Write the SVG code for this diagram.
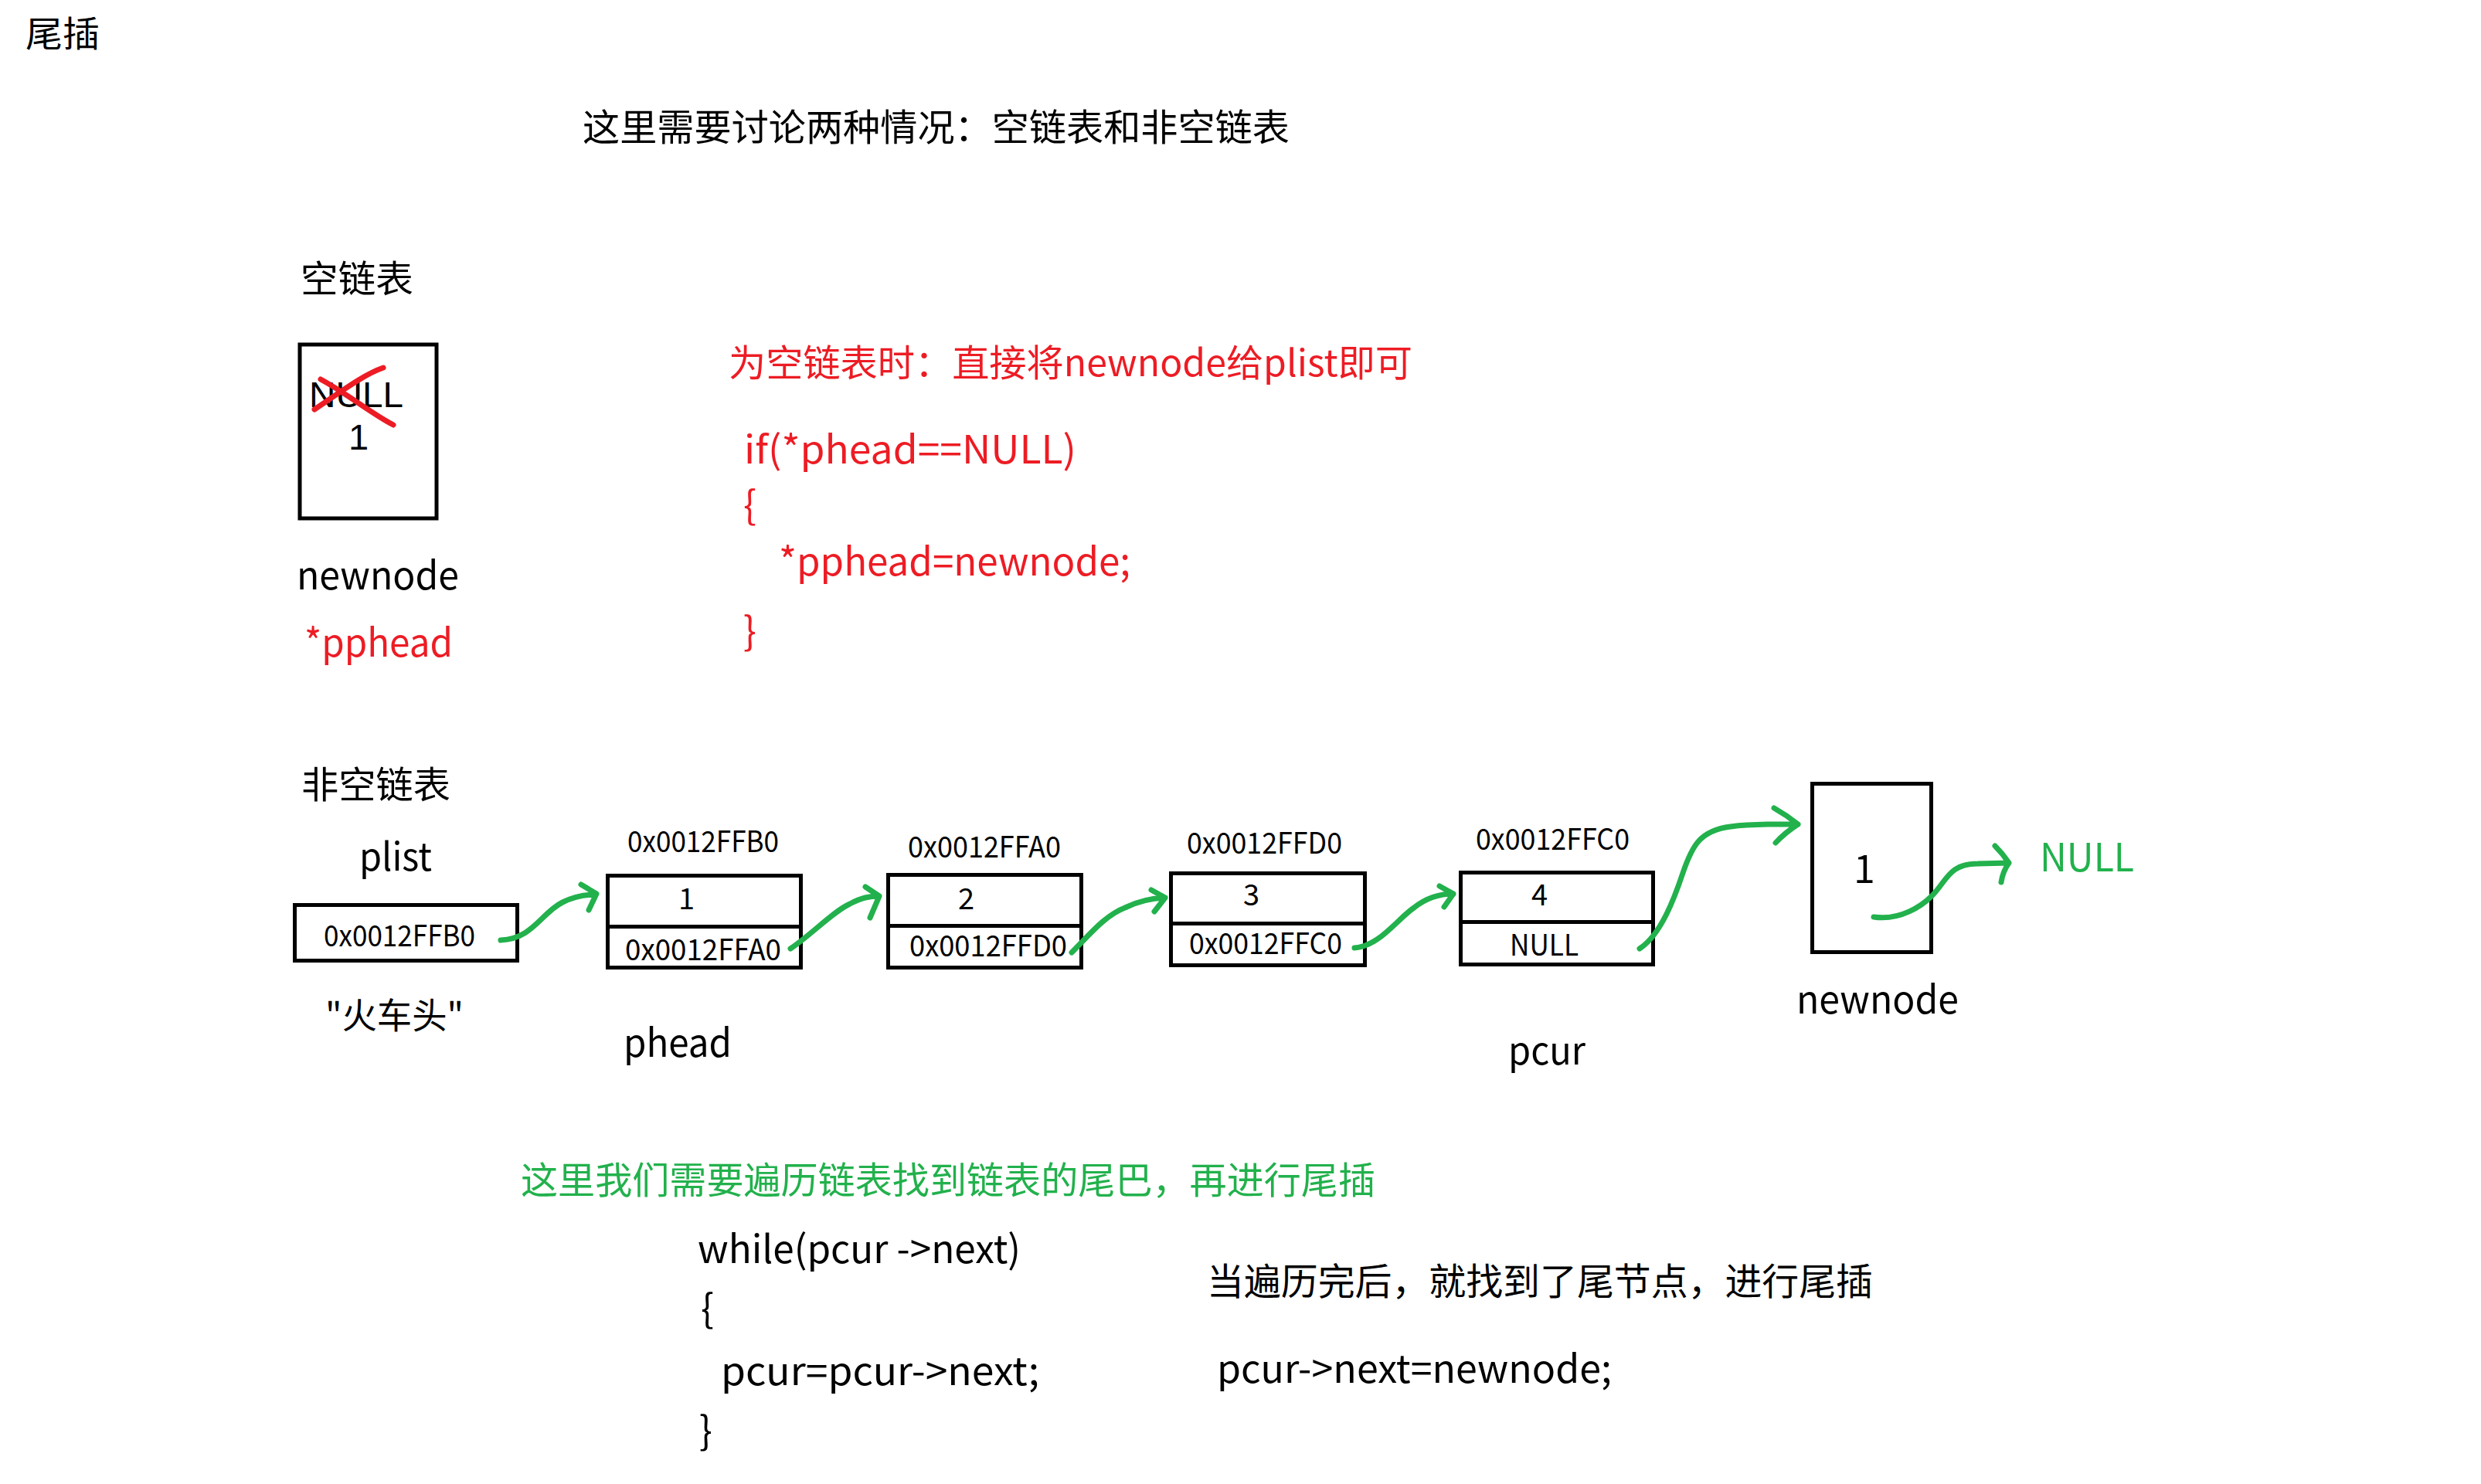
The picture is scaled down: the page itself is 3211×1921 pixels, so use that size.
<svg xmlns="http://www.w3.org/2000/svg" width="3211" height="1921" viewBox="0 0 3211 1921">
<style>
text{font-family:"Noto Sans CJK SC","Noto Sans",sans-serif;fill:#000}
.t48{font-size:48px}
.t50{font-size:50px}
.t46{font-size:46px}
.a{font-size:38px}
.lib{font-family:"Liberation Sans",Arial,sans-serif;font-size:47px}
.red{fill:#ed1c24}
.grn{fill:#22b14c}
.box{fill:#fff;stroke:#000;stroke-width:5}
.arr{fill:none;stroke:#22b14c;stroke-width:7;stroke-linecap:round;stroke-linejoin:round}
.x{fill:none;stroke:#ed1c24;stroke-width:7;stroke-linecap:round}
</style>
<rect width="3211" height="1921" fill="#fff"/>
<g id="texts">
<text class="t46" x="33" y="60" textLength="96" lengthAdjust="spacingAndGlyphs">尾插</text>
<text class="t48" x="754" y="182" textLength="915" lengthAdjust="spacingAndGlyphs">这里需要讨论两种情况：空链表和非空链表</text>
<text class="t48" x="389" y="378" textLength="146" lengthAdjust="spacingAndGlyphs">空链表</text>
<text class="t48 red" x="943" y="487" textLength="885" lengthAdjust="spacingAndGlyphs">为空链表时：直接将newnode给plist即可</text>
<text class="t50 red" x="963" y="600" textLength="430" lengthAdjust="spacingAndGlyphs">if(*phead==NULL)</text>
<text class="t50 red" x="962" y="672">{</text>
<text class="t50 red" x="1008" y="745" textLength="455" lengthAdjust="spacingAndGlyphs">*pphead=newnode;</text>
<text class="t50 red" x="962" y="835">}</text>
<text class="t50" x="384" y="763" textLength="210" lengthAdjust="spacingAndGlyphs">newnode</text>
<text class="t50 red" x="394" y="850" textLength="192" lengthAdjust="spacingAndGlyphs">*pphead</text>
<text class="t48" x="390" y="1033" textLength="193" lengthAdjust="spacingAndGlyphs">非空链表</text>
<text class="t50" x="465" y="1127" textLength="94" lengthAdjust="spacingAndGlyphs">plist</text>
<text class="t46" x="421" y="1331" textLength="179" lengthAdjust="spacingAndGlyphs">"火车头"</text>
<text class="t50" x="807" y="1368" textLength="140" lengthAdjust="spacingAndGlyphs">phead</text>
<text class="t50" x="1952" y="1378" textLength="100" lengthAdjust="spacingAndGlyphs">pcur</text>
<text class="t50 grn" x="2640" y="1128" textLength="122" lengthAdjust="spacingAndGlyphs">NULL</text>
<text class="t48 grn" x="674" y="1545" textLength="1106" lengthAdjust="spacingAndGlyphs">这里我们需要遍历链表找到链表的尾巴，再进行尾插</text>
<text class="t50" x="903" y="1635" textLength="418" lengthAdjust="spacingAndGlyphs">while(pcur -&gt;next)</text>
<text class="t50" x="907" y="1712">{</text>
<text class="t50" x="933" y="1793" textLength="412" lengthAdjust="spacingAndGlyphs">pcur=pcur-&gt;next;</text>
<text class="t50" x="905" y="1870">}</text>
<text class="t48" x="1562" y="1676" textLength="862" lengthAdjust="spacingAndGlyphs">当遍历完后，就找到了尾节点，进行尾插</text>
<text class="t50" x="1575" y="1790" textLength="511" lengthAdjust="spacingAndGlyphs">pcur-&gt;next=newnode;</text>
</g>
<g id="node-empty">
<rect class="box" x="388" y="446" width="177" height="225"/>
<text class="lib" x="400" y="527" textLength="122" lengthAdjust="spacingAndGlyphs">NULL</text>
<text class="lib" x="451" y="582">1</text>
<path class="x" d="M407,530 C440,508 470,485 496,476"/>
<path class="x" d="M415,491 C450,510 480,535 509,550"/>
</g>
<g id="node-plist">
<rect class="box" x="381.5" y="1171.5" width="288" height="72"/>
<text class="a" x="419" y="1225" textLength="196" lengthAdjust="spacingAndGlyphs">0x0012FFB0</text>
</g>
<g id="node-1">
<text class="a" x="812" y="1103" textLength="196" lengthAdjust="spacingAndGlyphs">0x0012FFB0</text>
<rect class="box" x="786.5" y="1133.5" width="250" height="66"/>
<rect class="box" x="786.5" y="1199.5" width="250" height="53"/>
<text class="a" x="878" y="1177">1</text>
<text class="a" x="809" y="1243" textLength="202" lengthAdjust="spacingAndGlyphs">0x0012FFA0</text>
</g>
<g id="node-2">
<text class="a" x="1175" y="1110" textLength="198" lengthAdjust="spacingAndGlyphs">0x0012FFA0</text>
<rect class="box" x="1149.5" y="1132.5" width="250" height="66"/>
<rect class="box" x="1149.5" y="1198.5" width="250" height="54"/>
<text class="a" x="1240" y="1177">2</text>
<text class="a" x="1177" y="1238" textLength="204" lengthAdjust="spacingAndGlyphs">0x0012FFD0</text>
</g>
<g id="node-3">
<text class="a" x="1536" y="1105" textLength="201" lengthAdjust="spacingAndGlyphs">0x0012FFD0</text>
<rect class="box" x="1515.5" y="1130.5" width="251" height="65"/>
<rect class="box" x="1515.5" y="1195.5" width="251" height="54"/>
<text class="a" x="1609" y="1172">3</text>
<text class="a" x="1539" y="1235" textLength="198" lengthAdjust="spacingAndGlyphs">0x0012FFC0</text>
</g>
<g id="node-4">
<text class="a" x="1910" y="1100" textLength="199" lengthAdjust="spacingAndGlyphs">0x0012FFC0</text>
<rect class="box" x="1890.5" y="1129.5" width="249" height="64"/>
<rect class="box" x="1890.5" y="1193.5" width="249" height="55"/>
<text class="a" x="1982" y="1172">4</text>
<text class="a" x="1954" y="1237" textLength="89" lengthAdjust="spacingAndGlyphs">NULL</text>
</g>
<g id="node-new">
<rect class="box" x="2345.5" y="1014.5" width="154" height="218"/>
<text class="t50" x="2399" y="1143">1</text>
<text class="t50" x="2325" y="1312" textLength="210" lengthAdjust="spacingAndGlyphs">newnode</text>
</g>
<g id="connectors">
<path class="arr" d="M648,1217 C690,1215 700,1182 728,1168 C744,1160 758,1158 771,1158 M752,1145 L772,1157 L762,1178"/>
<path class="arr" d="M1023,1228 C1050,1210 1078,1180 1100,1170 C1115,1162 1125,1160 1138,1160 M1120,1148 L1138,1160 L1126,1188"/>
<path class="arr" d="M1387,1233 C1410,1210 1430,1185 1456,1175 C1470,1168 1485,1163 1508,1162 M1490,1152 L1508,1162 L1494,1180"/>
<path class="arr" d="M1753,1227 C1785,1225 1808,1190 1830,1175 C1845,1163 1862,1157 1881,1157 M1863,1147 L1881,1157 L1869,1174"/>
<path class="arr" d="M2122,1228 C2150,1210 2168,1160 2178,1130 C2190,1095 2200,1075 2240,1070 C2270,1066 2300,1067 2327,1067 M2296,1046 Q2312,1055 2327,1067 Q2310,1078 2298,1091"/>
<path class="arr" d="M2425,1187 C2460,1192 2488,1172 2500,1160 C2520,1140 2522,1118 2560,1118 L2600,1117 M2582,1095 Q2592,1105 2600,1117 Q2592,1128 2590,1142"/>
</g>
</svg>
